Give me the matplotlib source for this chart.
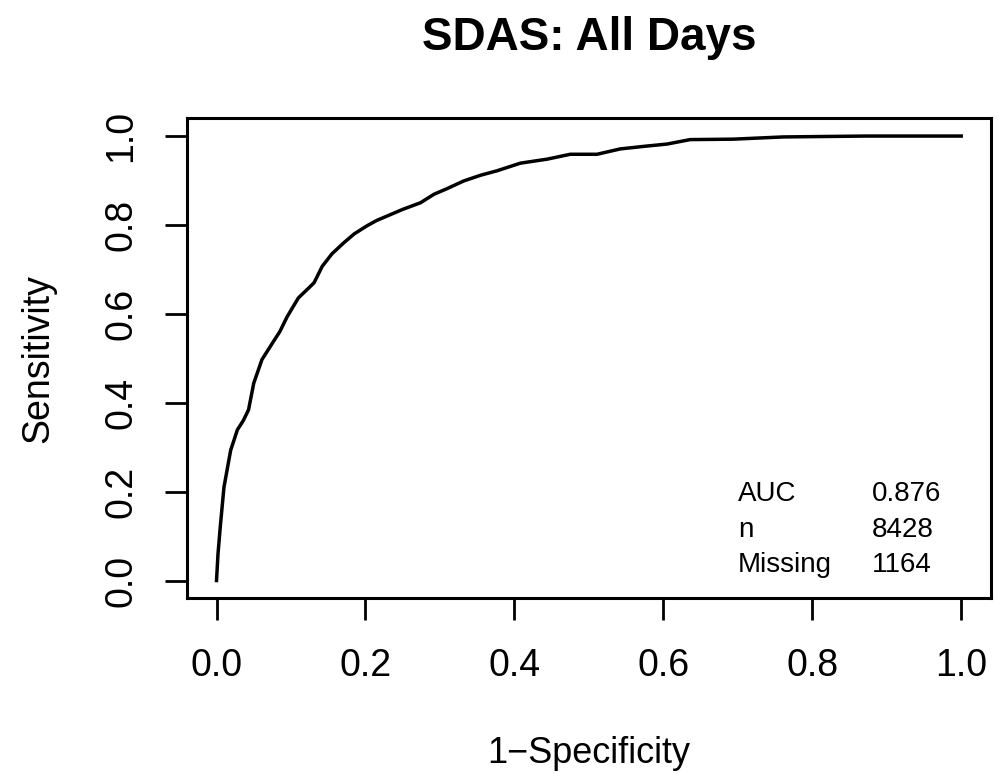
import matplotlib
matplotlib.use("Agg")
import matplotlib.pyplot as plt

plt.rcParams['font.family'] = ['Liberation Sans', 'DejaVu Sans']

# ROC curve
fpr = [0, 0.002, 0.005, 0.01, 0.019, 0.028, 0.036, 0.043, 0.05, 0.061, 0.075,
       0.085, 0.095, 0.11, 0.125, 0.131, 0.142, 0.155, 0.171, 0.185, 0.202,
       0.215, 0.229, 0.25, 0.274, 0.292, 0.31, 0.332, 0.355, 0.377, 0.408,
       0.444, 0.475, 0.511, 0.542, 0.575, 0.605, 0.636, 0.694, 0.761, 0.873, 1.0]
tpr = [0, 0.06, 0.12, 0.21, 0.293, 0.339, 0.36, 0.384, 0.444, 0.497, 0.534,
       0.56, 0.594, 0.636, 0.66, 0.67, 0.707, 0.735, 0.76, 0.78, 0.798,
       0.81, 0.82, 0.835, 0.85, 0.869, 0.882, 0.899, 0.912, 0.922, 0.939,
       0.948, 0.959, 0.959, 0.971, 0.977, 0.982, 0.992, 0.993, 0.998, 1.0, 1.0]

stat_names = ['AUC', 'n', 'Missing']
stat_values = ['0.876', '8428', '1164']
ticks = [0.0, 0.2, 0.4, 0.6, 0.8, 1.0]

fig = plt.figure(figsize=(9.98, 7.74), dpi=100)
ax = fig.add_axes([0.1871, 0.2270, 0.9930 - 0.1871, 0.8472 - 0.2270])

ax.plot(fpr, tpr, color='black', lw=2.5)
ax.set_xlim(-0.04, 1.04)
ax.set_ylim(-0.04, 1.04)

ax.set_xticks(ticks)
ax.set_yticks(ticks)
ax.set_xticklabels(['%.1f' % t for t in ticks])
ax.set_yticklabels(['%.1f' % t for t in ticks], rotation=90, va='center')
ax.tick_params(length=16, width=2, labelsize=27, pad=20)
ax.tick_params(axis='y', pad=18)
for s in ax.spines.values():
    s.set_linewidth(2.2)

# stats text, lower right
for i, (nm, val) in enumerate(zip(stat_names, stat_values)):
    yy = 0.194 - i * 0.08
    ax.text(0.70, yy, nm, fontsize=20, va='center', ha='left')
    ax.text(0.88, yy, val, fontsize=20, va='center', ha='left')

fig.text(0.59, 0.951, 'SDAS: All Days', fontsize=33, fontweight='bold',
         ha='center', va='center')
fig.text(0.59, 0.026, '1\u2212Specificity', fontsize=26, ha='center', va='center')
fig.text(0.038, 0.537, 'Sensitivity', fontsize=27, ha='center', va='center',
         rotation=90)

fig.savefig('out.png', dpi=100)
